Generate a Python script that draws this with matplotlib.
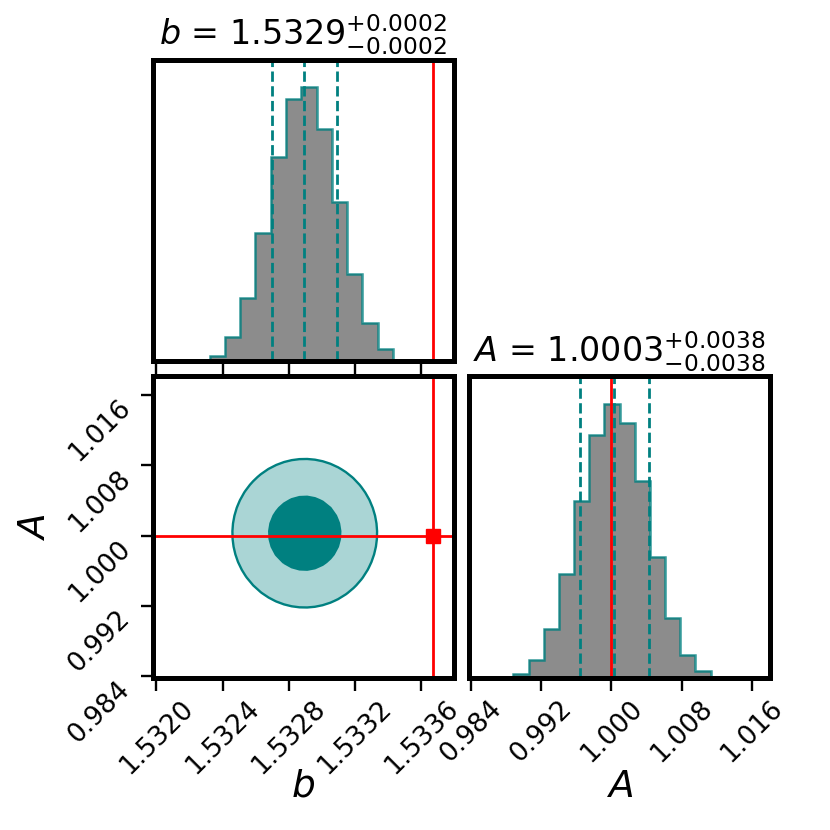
import numpy as np
import matplotlib
matplotlib.use("Agg")
import matplotlib.pyplot as plt

# posterior summary
b_truth = 1.53367
A_truth = 1.000
b_quantiles = [1.53270, 1.53289, 1.53309]
A_quantiles = [0.99645, 1.00026, 1.00424]

# 1D histograms (14 bins each)
b_bin_lo, b_bin_hi = 1.53223, 1.53352
b_counts = [2, 17, 73, 188, 382, 607, 777, 813, 690, 473, 260, 115, 37, 5]
A_bin_lo, A_bin_hi = 0.98882, 1.01304
A_counts = [12, 55, 145, 310, 525, 722, 813, 757, 583, 360, 178, 70, 20, 1]

# 2D contour: centre and half widths of the two credible regions
contour_center = (1.532896, 1.00026)
contour_b_half = [0.000215, 0.000437]
contour_A_half = [0.00416, 0.00845]

b_lim = (1.531978, 1.533797)
A_lim = (0.98377, 1.01810)
b_ticks = [1.5320, 1.5324, 1.5328, 1.5332, 1.5336]
A_ticks = [0.984, 0.992, 1.000, 1.008, 1.016]
b_ticklabels = ["1.5320", "1.5324", "1.5328", "1.5332", "1.5336"]
A_ticklabels = ["0.984", "0.992", "1.000", "1.008", "1.016"]

teal = "#008080"
hist_fill = "#8c8c8c"

fig, axes = plt.subplots(2, 2, figsize=(8.3, 8.3), dpi=100)
fig.subplots_adjust(left=0.184, right=0.928, bottom=0.183, top=0.928,
                    wspace=0.05, hspace=0.05)
axes[0, 1].set_visible(False)


def style(ax):
    for sp in ax.spines.values():
        sp.set_linewidth(3.6)
    ax.tick_params(direction="out", length=9, width=1.7, labelsize=19)


def hist1d(ax, lo, hi, counts, quants, truth, title):
    edges = np.linspace(lo, hi, len(counts) + 1)
    ax.stairs(counts, edges, fill=True, color=hist_fill)
    ax.stairs(counts, edges, color=teal, lw=1.8, alpha=0.8)
    for q in quants:
        ax.axvline(q, color=teal, ls="--", lw=2)
    ax.axvline(truth, color="red", lw=2)
    ax.set_ylim(0, 1.1 * max(counts))
    ax.set_yticks([])
    ax.set_title(title, fontsize=24, pad=10)
    style(ax)


# b marginal
ax = axes[0, 0]
hist1d(ax, b_bin_lo, b_bin_hi, b_counts, b_quantiles, b_truth,
       r"$b$ = 1.5329$^{+0.0002}_{-0.0002}$")
ax.set_xlim(*b_lim)
ax.set_xticks(b_ticks)
ax.set_xticklabels([])

# A marginal
ax = axes[1, 1]
hist1d(ax, A_bin_lo, A_bin_hi, A_counts, A_quantiles, A_truth,
       r"$A$ = 1.0003$^{+0.0038}_{-0.0038}$")
ax.set_xlim(*A_lim)
ax.set_xticks(A_ticks)
ax.set_xticklabels(A_ticklabels, rotation=45)
ax.set_xlabel(r"$A$", fontsize=27)
ax.xaxis.set_label_coords(0.5, -0.3)

# joint
ax = axes[1, 0]
gb = np.linspace(b_lim[0], b_lim[1], 40)
gA = np.linspace(A_lim[0], A_lim[1], 40)
BB, AA = np.meshgrid(gb, gA)
r = np.sqrt(((BB - contour_center[0]) / contour_b_half[0]) ** 2
            + ((AA - contour_center[1]) / contour_A_half[0]) ** 2)
outer = contour_b_half[1] / contour_b_half[0]
ax.contourf(BB, AA, r, levels=[0, 1, outer], colors=[teal, "#aad5d5"])
ax.contour(BB, AA, r, levels=[1, outer], colors=teal, linewidths=1.7)
ax.axvline(b_truth, color="red", lw=2)
ax.axhline(A_truth, color="red", lw=2)
ax.plot(b_truth, A_truth, "s", color="red", ms=10.5)
ax.set_xlim(*b_lim)
ax.set_ylim(*A_lim)
ax.set_xticks(b_ticks)
ax.set_xticklabels(b_ticklabels, rotation=45)
ax.set_yticks(A_ticks)
ax.set_yticklabels(A_ticklabels, rotation=45, va="top")
ax.set_xlabel(r"$b$", fontsize=27)
ax.set_ylabel(r"$A$", fontsize=27)
ax.xaxis.set_label_coords(0.5, -0.3)
ax.yaxis.set_label_coords(-0.33, 0.5)
style(ax)

fig.savefig("out.png", dpi=100)
